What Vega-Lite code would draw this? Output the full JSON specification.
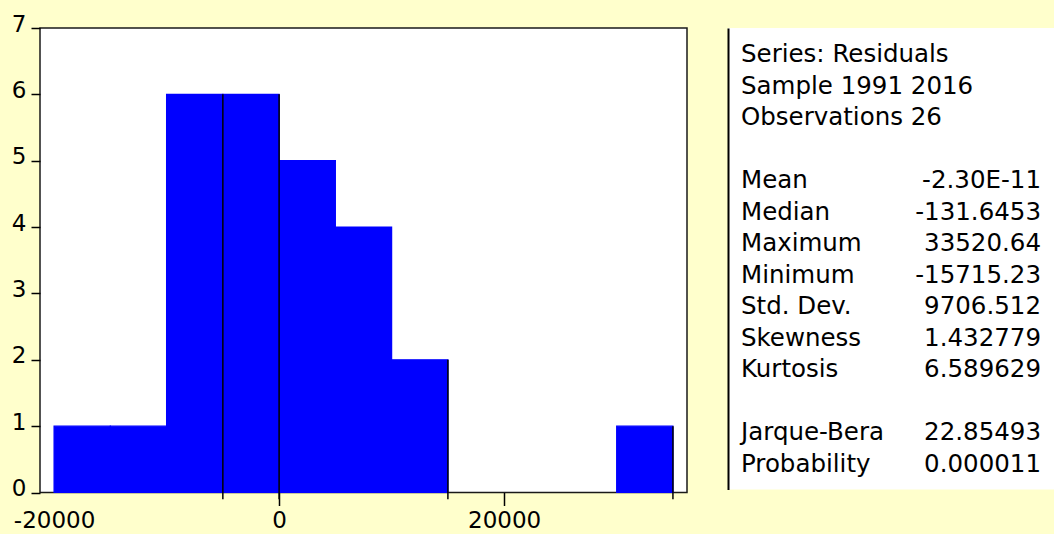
{
  "$schema": "https://vega.github.io/schema/vega-lite/v6.json",
  "background": "#FFFFCC",
  "padding": {"left": 10, "top": 12, "right": 0, "bottom": 0},
  "spacing": 40,
  "config": {
    "font": "DejaVu Sans",
    "axis": {"grid": false, "domain": false, "labelColor": "black", "tickColor": "black", "labelFontSize": 23, "labelFont": "DejaVu Sans", "titleFontSize": 12}
  },
  "datasets": {
    "bins": [
      {"bin_start": -20000, "bin_end": -15000, "count": 1},
      {"bin_start": -15000, "bin_end": -10000, "count": 1},
      {"bin_start": -10000, "bin_end": -5000, "count": 6},
      {"bin_start": -5000, "bin_end": 0, "count": 6},
      {"bin_start": 0, "bin_end": 5000, "count": 5},
      {"bin_start": 5000, "bin_end": 10000, "count": 4},
      {"bin_start": 10000, "bin_end": 15000, "count": 2},
      {"bin_start": 30000, "bin_end": 35000, "count": 1}
    ],
    "edges": [
      {"edge": -5000, "height": 6},
      {"edge": 0, "height": 6},
      {"edge": 15000, "height": 2},
      {"edge": 35000, "height": 1}
    ],
    "stats": [
      {"row": 1, "label": "Series: Residuals", "value": ""},
      {"row": 2, "label": "Sample 1991 2016", "value": ""},
      {"row": 3, "label": "Observations 26", "value": ""},
      {"row": 5, "label": "Mean", "value": "-2.30E-11"},
      {"row": 6, "label": "Median", "value": "-131.6453"},
      {"row": 7, "label": "Maximum", "value": "33520.64"},
      {"row": 8, "label": "Minimum", "value": "-15715.23"},
      {"row": 9, "label": "Std. Dev.", "value": "9706.512"},
      {"row": 10, "label": "Skewness", "value": "1.432779"},
      {"row": 11, "label": "Kurtosis", "value": "6.589629"},
      {"row": 13, "label": "Jarque-Bera", "value": "22.85493"},
      {"row": 14, "label": "Probability", "value": "0.000011"}
    ]
  },
  "hconcat": [
    {
      "width": 647,
      "height": 464.5,
      "view": {"fill": "white", "stroke": "#1a1a1a", "strokeWidth": 1.5},
      "layer": [
        {
          "data": {"name": "bins"},
          "mark": {"type": "rect", "color": "#0000FF", "stroke": "#0000FF", "strokeWidth": 1.2},
          "encoding": {
            "x": {
              "field": "bin_start", "type": "quantitative",
              "scale": {"domain": [-21250, 36250], "nice": false, "zero": false},
              "axis": {
                "title": null, "values": [-20000, 0, 20000],
                "labelExpr": "'' + datum.value",
                "tickSize": 13, "tickWidth": 1.5, "labelPadding": 4, "labelFlush": false,
                "tickOpacity": {"condition": {"test": "datum.value == -20000", "value": 0}, "value": 1}
              }
            },
            "x2": {"field": "bin_end"},
            "y": {
              "field": "count", "type": "quantitative",
              "scale": {"domain": [0, 7], "nice": false},
              "axis": {
                "title": null, "values": [0, 1, 2, 3, 4, 5, 6, 7], "format": "d",
                "tickSize": 9, "tickWidth": 1.5, "labelPadding": 5, "labelOffset": -4
              }
            },
            "y2": {"datum": 0}
          }
        },
        {
          "data": {"name": "edges"},
          "mark": {"type": "rule", "color": "black", "strokeWidth": 1.5},
          "encoding": {
            "x": {"field": "edge", "type": "quantitative"},
            "y": {"field": "height", "type": "quantitative"},
            "y2": {"datum": -0.1}
          }
        }
      ]
    },
    {
      "width": 326,
      "height": 461.5,
      "view": {"fill": "white", "stroke": null},
      "data": {"name": "stats"},
      "encoding": {
        "y": {
          "field": "row", "type": "quantitative",
          "scale": {"domain": [-0.0952, 14.556], "reverse": true, "nice": false, "zero": false},
          "axis": {"title": null, "labels": false, "ticks": false, "domain": true, "domainColor": "black", "domainWidth": 2, "minExtent": 0, "maxExtent": 0}
        }
      },
      "layer": [
        {
          "mark": {"type": "text", "align": "left", "baseline": "alphabetic", "fontSize": 24.5, "font": "DejaVu Sans", "color": "black", "dx": 13},
          "encoding": {
            "x": {"value": 0},
            "text": {"field": "label"}
          }
        },
        {
          "mark": {"type": "text", "align": "right", "baseline": "alphabetic", "fontSize": 24.5, "font": "DejaVu Sans", "color": "black", "dx": -13},
          "encoding": {
            "x": {"value": "width"},
            "text": {"field": "value"}
          }
        }
      ]
    }
  ]
}
